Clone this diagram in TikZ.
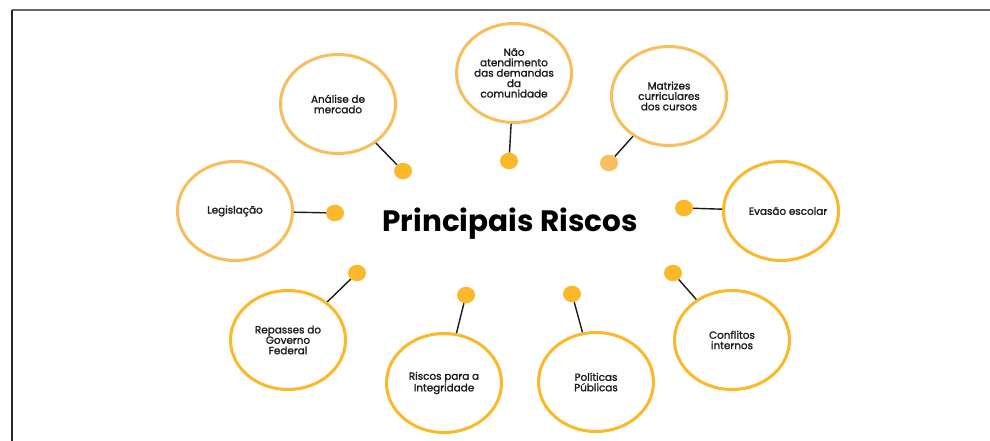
\documentclass[tikz,border=0pt]{standalone}
\usepackage{fontspec}
\setmainfont{Poppins}
\newfontfamily\medfont[FakeBold=1.3]{Poppins}
\usetikzlibrary{shapes.geometric}
\definecolor{ringA}{HTML}{F8BE5C}
\definecolor{ringB}{HTML}{FBB829}
\definecolor{dotA}{HTML}{FBB829}
\definecolor{dotB}{HTML}{F8BE60}
\definecolor{txt}{HTML}{1A1A1A}
\tikzset{
  risk/.style={ellipse, draw=ringB, line width=3pt, minimum width=115pt, minimum height=99pt,
    inner sep=0pt, align=center, text=txt, font=\medfont\fontsize{10.4}{10.4}\selectfont},
  riskl/.style={risk, draw=ringA},
  pin/.style={ellipse, fill=dotA, draw=none, minimum width=18pt, minimum height=16.5pt, inner sep=0pt},
  pinl/.style={pin, fill=dotB},
  link/.style={draw=txt, line width=1.4pt},
  title/.style={text=black, font=\bfseries\fontsize{29.5}{32}\selectfont, inner sep=0pt}
}
\begin{document}
\begin{tikzpicture}[x=1pt, y=-1pt]
\useasboundingbox (0,0) rectangle (990,441);
\fill[white] (0,0) rectangle (990,441);
% frame
\coordinate (ftl) at (12,10);
\coordinate (ftr) at (990,10);
\coordinate (fbl) at (12,441);
\draw[line width=1.8pt, draw=black!60] (ftl) -- (ftr);
\draw[line width=1.6pt, draw=black!85] (ftl) -- (fbl);

\node[title] (t) at (510,224) {Principais Riscos};

% circles
\node[riskl] (c1) at (338,104) {Análise de\\mercado};
\node[riskl] (c2) at (514,73) {Não\\atendimento\\das demandas\\da\\comunidade};
\node[riskl] (c3) at (669,96) {Matrizes\\curriculares\\dos cursos};
\node[riskl] (c4) at (235,211) {Legislação};
\node[risk] (c5) at (781,211) {\makebox[0pt]{\hspace*{14pt}Evasão escolar}};
\node[risk] (c6) at (288,340) {Repasses do\\Governo\\Federal};
\node[risk] (c7) at (444,383) {Riscos para a\\Integridade};
\node[risk] (c8) at (596,382) {Políticas\\Públicas};
\node[risk] (c9) at (732,340) {Conflitos\\internos};

% dots
\node[pin] (d1) at (403,171) {};
\node[pin] (d2) at (509,161) {};
\node[pinl] (d3) at (609,163) {};
\node[pin] (d4) at (335,213) {};
\node[pin] (d5) at (684,208) {};
\node[pin] (d6) at (357,273) {};
\node[pin] (d7) at (466,295) {};
\node[pin] (d8) at (572,294) {};
\node[pin] (d9) at (673,273) {};

% connectors
\foreach \i in {1,...,9} {
  \draw[link] (d\i) -- (c\i);
}
\end{tikzpicture}
\end{document}
